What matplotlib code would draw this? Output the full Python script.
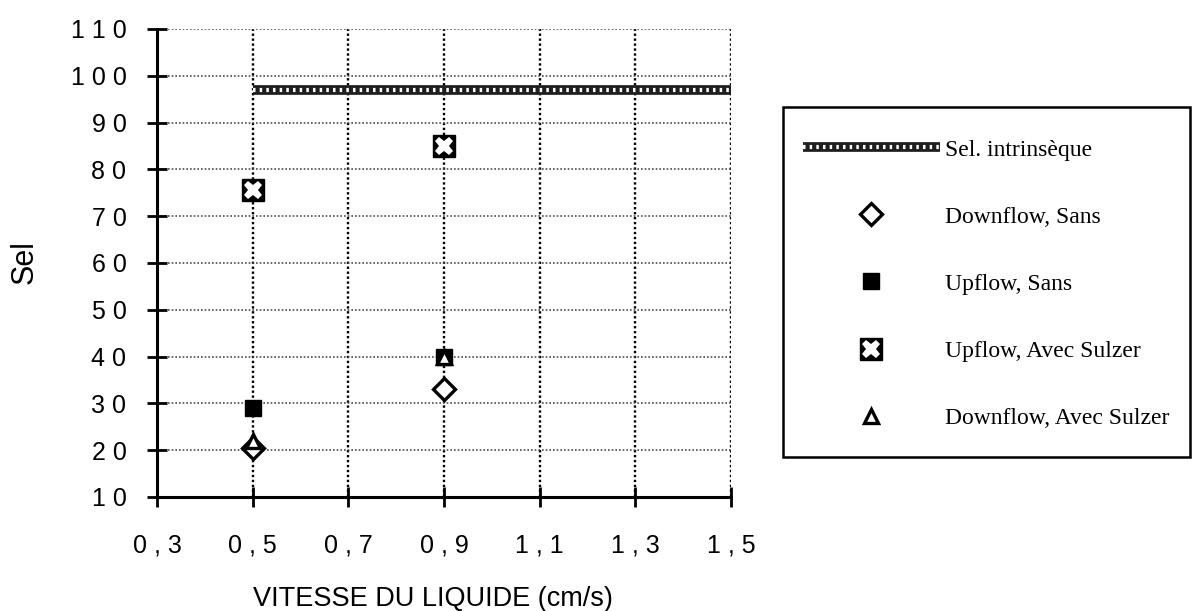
import matplotlib.pyplot as plt
from matplotlib.patches import Rectangle
import numpy as np

# liquid velocity (cm/s) and selectivity for each configuration
vitesse = [0.5, 0.9]
downflow_sans = [20.5, 33]
upflow_sans = [29, 40]
upflow_sulzer = [75.5, 85]
downflow_sulzer = [22, 40]

# intrinsic selectivity level
sel_x = [0.5, 1.5]
sel_intrinseque = [97, 97]

x_ticks = [0.3, 0.5, 0.7, 0.9, 1.1, 1.3, 1.5]
y_ticks = [10, 20, 30, 40, 50, 60, 70, 80, 90, 100, 110]


def spaced(s):
    # old chart style: a space between every character of tick labels
    return " ".join(s)


W, H = 1192, 611
fig = plt.figure(figsize=(W / 100, H / 100), dpi=100)
ax = fig.add_axes([157 / W, 1 - 497 / H, (731 - 157) / W, (497 - 29) / H])

sans = 'Liberation Sans'
serif = 'Liberation Serif'

# intrinsic selectivity: thick checkered band
l1, = ax.plot(sel_x, sel_intrinseque, color='0.12', lw=7, solid_capstyle='butt', zorder=3)
l2, = ax.plot(sel_x, sel_intrinseque, color='white', lw=3.0, dashes=(0.6, 1.0), zorder=3.1)

m_ds, = ax.plot(vitesse, downflow_sans, ls='none', marker='D', ms=11, mfc='white',
                mec='black', mew=2.4, zorder=5)
m_us, = ax.plot(vitesse, upflow_sans, ls='none', marker='s', ms=12, mfc='black',
                mec='black', zorder=4)
m_sq, = ax.plot(vitesse, upflow_sulzer, ls='none', marker='s', ms=16, mfc='black',
                mec='black', zorder=4)
m_x, = ax.plot(vitesse, upflow_sulzer, ls='none', marker='X', ms=13, mfc='white',
               mec='white', mew=0, zorder=4.1)
m_dsz, = ax.plot(vitesse, downflow_sulzer, ls='none', marker='^', ms=10, mfc='white',
                 mec='black', mew=2.4, zorder=6)

ax.set_xlim(0.3, 1.5)
ax.set_ylim(10, 110)
ax.set_xticks(x_ticks)
ax.set_yticks(y_ticks)
ax.set_xticklabels([spaced(f"{v:.1f}".replace('.', ',')) for v in x_ticks],
                   fontfamily=sans, fontsize=18)
ax.set_yticklabels([spaced(str(v)) for v in y_ticks], fontfamily=sans, fontsize=18)
ax.tick_params(direction='inout', length=14, width=2, color='black')
ax.tick_params(axis='y', pad=15)
ax.tick_params(axis='x', pad=19)

for side in ['top', 'right']:
    ax.spines[side].set_visible(False)
for side in ['left', 'bottom']:
    ax.spines[side].set_linewidth(2.2)
    ax.spines[side].set_zorder(7)

ax.xaxis.grid(True, color='black', ls=(0, (1, 1.1)), lw=1.7)
ax.yaxis.grid(True, color='0.3', ls=(0, (1, 1.2)), lw=1.2)
ax.set_axisbelow(True)

ax.set_xlabel('VITESSE DU LIQUIDE (cm/s)', fontfamily=sans, fontsize=19.5)
ax.set_ylabel('Sel', fontfamily=sans, fontsize=22)
ax.xaxis.set_label_coords(0.48, -0.19)
ax.yaxis.set_label_coords(-(157 - 40) / (731 - 157), 0.5 - (262 - 263) / 468)

# legend with a plain square frame
fig.patches.append(Rectangle((783 / W, 1 - 457 / H), (1190 - 783) / W, (457 - 107) / H,
                             transform=fig.transFigure, fill=False, ec='black', lw=1.8))
leg = fig.legend([(l1, l2), m_ds, m_us, (m_sq, m_x), m_dsz],
                 ['Sel. intrinsèque', 'Downflow, Sans', 'Upflow, Sans',
                  'Upflow, Avec Sulzer', 'Downflow, Avec Sulzer'],
                 loc='upper left', bbox_to_anchor=(803 / W, 1 - 139 / H),
                 frameon=False, borderpad=0, borderaxespad=0,
                 handlelength=5.8, handletextpad=0.2, labelspacing=1.93,
                 prop={'family': serif, 'size': 17})

fig.savefig('out.png', dpi=100)
